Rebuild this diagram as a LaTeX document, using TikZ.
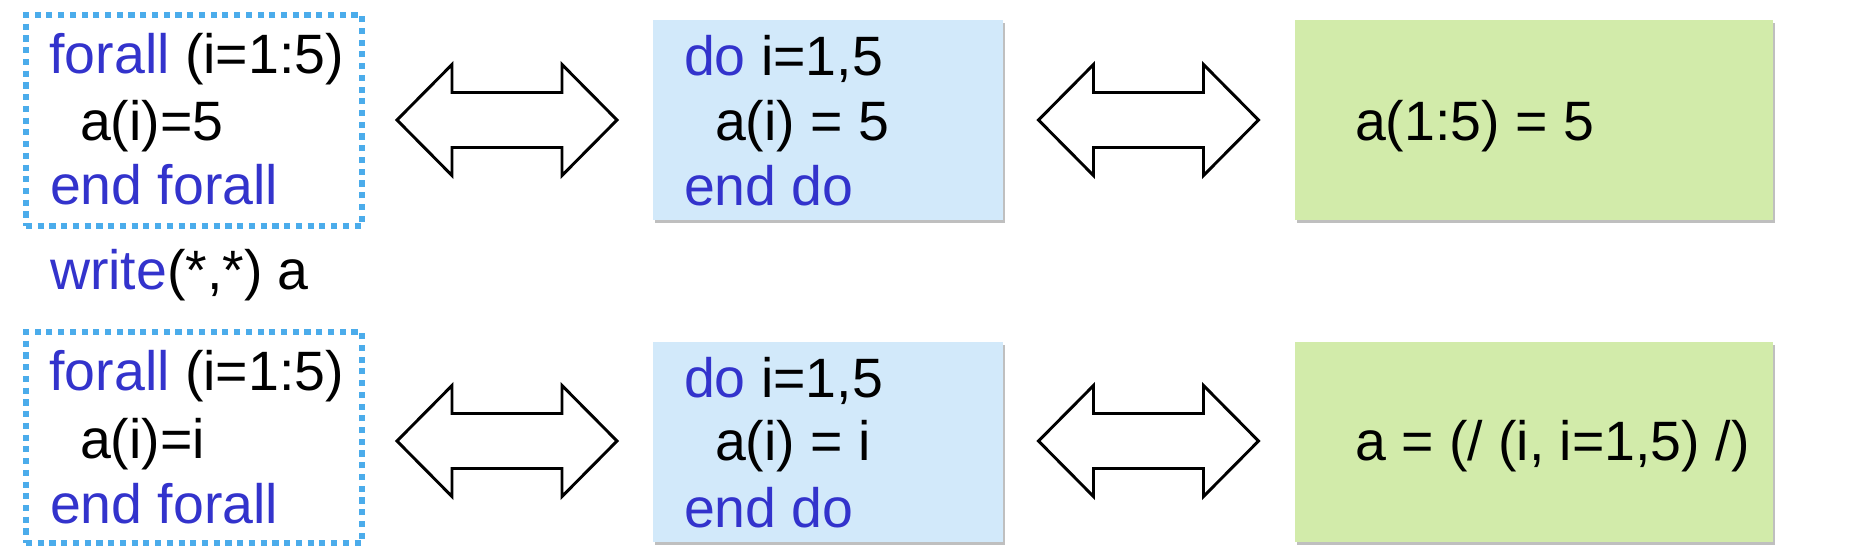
\documentclass[tikz,border=0pt]{standalone}
\usepackage{fontspec}
\setmainfont{Liberation Sans}
\usetikzlibrary{shadows}
\definecolor{kw}{HTML}{3333CC}
\definecolor{dotblue}{HTML}{4BACEB}
\definecolor{loopfill}{HTML}{D2E9FA}
\definecolor{arrfill}{HTML}{D2EBAA}
\begin{document}
\begin{tikzpicture}[x=0.75pt,y=-0.75pt,
  code/.style={anchor=base west,inner sep=0pt,outer sep=0pt,font=\fontsize{41.6}{48}\selectfont},
  dotbox/.style={draw=dotblue,line width=4.4pt,dash pattern=on 4.6pt off 4.2pt,inner sep=0pt,outer sep=0pt,anchor=north west,minimum width=252pt,minimum height=158.25pt},
  shadowbox/.style={inner sep=0pt,outer sep=0pt,anchor=north west,minimum height=150pt,
     drop shadow={shadow xshift=1.5pt,shadow yshift=-2.5pt,opacity=0.25,fill=black}},
  loopbox/.style={shadowbox,fill=loopfill,minimum width=262.5pt},
  arraybox/.style={shadowbox,fill=arrfill,minimum width=358.5pt},
  dblarrow/.style={draw=black,fill=white,line width=2.2pt,line join=miter}
]
\useasboundingbox (0,0) rectangle (1863,547);
\fill[white] (0,0) rectangle (1863,547);

% ---- top row ----
\node[dotbox] (f1) at (26,15) {};
\node[code] (f1a) at (49.5,73) {{\color{kw}forall} (i=1:5)};
\node[code] (f1b) at (80,140) {a(i)=5};
\node[code] (f1c) at (50,204) {\color{kw}end forall};
\node[code] (w1) at (50,289) {{\color{kw}write}(*,*) a};

\node[loopbox] (d1) at (653,20) {};
\node[code] (d1a) at (684,75) {{\color{kw}do} i=1,5};
\node[code] (d1b) at (715,140) {a(i) = 5};
\node[code] (d1c) at (684,205) {\color{kw}end do};

\node[arraybox] (g1) at (1295,20) {};
\node[code] (g1a) at (1355,140) {a(1:5) = 5};

% ---- bottom row ----
\node[dotbox] (f2) at (26,332) {};
\node[code] (f2a) at (49.5,390) {{\color{kw}forall} (i=1:5)};
\node[code] (f2b) at (80,458) {a(i)=i};
\node[code] (f2c) at (50,523) {\color{kw}end forall};

\node[loopbox] (d2) at (653,342) {};
\node[code] (d2a) at (684,397) {{\color{kw}do} i=1,5};
\node[code] (d2b) at (715,460) {a(i) = i};
\node[code] (d2c) at (684,527) {\color{kw}end do};

\node[arraybox] (g2) at (1295,342) {};
\node[code] (g2a) at (1355,460) {a = (/ (i, i=1,5) /)};

% ---- double arrows ----
\coordinate (a1) at (507,120);
\coordinate (a2) at (1148.5,120);
\coordinate (a3) at (507,441);
\coordinate (a4) at (1148.5,441);
\foreach \c in {a1,a2,a3,a4}{
  \draw[dblarrow,shift={(\c)}]
    (-110,0) -- (-55,-55.5) -- (-55,-27.5) -- (55,-27.5) -- (55,-55.5) -- (110,0)
    -- (55,55.5) -- (55,27.5) -- (-55,27.5) -- (-55,55.5) -- cycle;
}
\end{tikzpicture}
\end{document}
